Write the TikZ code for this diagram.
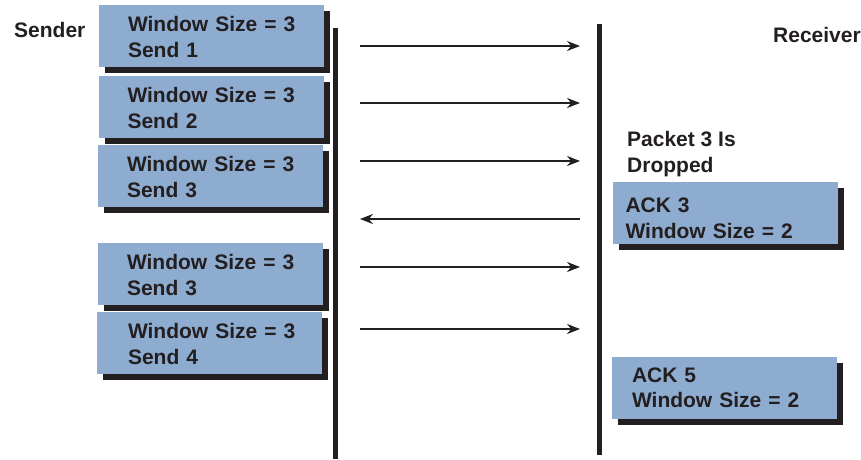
\documentclass[tikz,border=0pt]{standalone}
\usepackage{fontspec}
\setmainfont{Liberation Sans}
\usetikzlibrary{shadows,arrows.meta}

\definecolor{boxblue}{RGB}{142,172,208}
\definecolor{ink}{RGB}{35,31,32}

\tikzset{
  every node/.style={font=\fontsize{21}{25.5}\selectfont\bfseries, text=ink},
  msgbox/.style={rectangle, fill=boxblue, minimum width=225pt, minimum height=62pt,
    inner sep=0pt, text width=225pt,
    drop shadow={shadow xshift=6pt, shadow yshift=-6pt, fill=ink, opacity=1}},
  % left indent of the text, and a strut that sets the height of its first line
  textpos/.style n args={2}{execute at begin node={\leftskip=#1\relax\rightskip=0pt plus 1fil\relax\leavevmode\rule{0pt}{#2}}},
  sendbox/.style={msgbox, textpos={29pt}{17.5pt}},
  timeline/.style={draw=ink, line width=4.5pt},
  msg/.style={draw=ink, line width=1.6pt, -{Stealth[length=13pt, width=10pt]}},
  label/.style={anchor=base west, align=left, inner sep=0pt},
}

\begin{document}
\begin{tikzpicture}[x=1pt, y=-1pt]
  \useasboundingbox (0,0) rectangle (861,459);

  % side labels
  \node[label] (sender) at (14,37) {Sender};
  \node[label] (receiver) at (773,42) {Receiver};
  \node[label] (drop) at (627,172) {Packet 3 Is\\Dropped};

  % time lines
  \coordinate (stop) at (335.5,28);
  \coordinate (sbot) at (335.5,459);
  \coordinate (rtop) at (599.5,24);
  \coordinate (rbot) at (599.5,455);
  \draw[timeline] (stop) -- (sbot);
  \draw[timeline] (rtop) -- (rbot);

  % sender windows
  \node[sendbox] (w1) at (211.5,36)  {Window Size = 3\\Send 1};
  \node[sendbox] (w2) at (211,107)   {Window Size = 3\\Send 2};
  \node[sendbox] (w3) at (210.5,176) {Window Size = 3\\Send 3};
  \node[sendbox] (w4) at (210.5,274) {Window Size = 3\\Send 3};
  \node[msgbox, textpos={31pt}{17.5pt}] (w5) at (209.5,343) {Window Size = 3\\Send 4};

  % receiver acknowledgements
  \node[msgbox, textpos={13pt}{25pt}] (a3) at (725,213)   {ACK 3\\Window Size = 2};
  \node[msgbox, textpos={20pt}{0pt}]  (a5) at (724.5,388) {ACK 5\\Window Size = 2};

  % message arrows
  \foreach \i/\y in {1/46, 2/103, 3/161, 4/219, 5/267, 6/329} {
    \coordinate (s\i) at (360,\y);
    \coordinate (r\i) at (580,\y);
  }
  \draw[msg] (s1) -- (r1);
  \draw[msg] (s2) -- (r2);
  \draw[msg] (s3) -- (r3);
  \draw[msg] (r4) -- (s4);
  \draw[msg] (s5) -- (r5);
  \draw[msg] (s6) -- (r6);
\end{tikzpicture}
\end{document}
